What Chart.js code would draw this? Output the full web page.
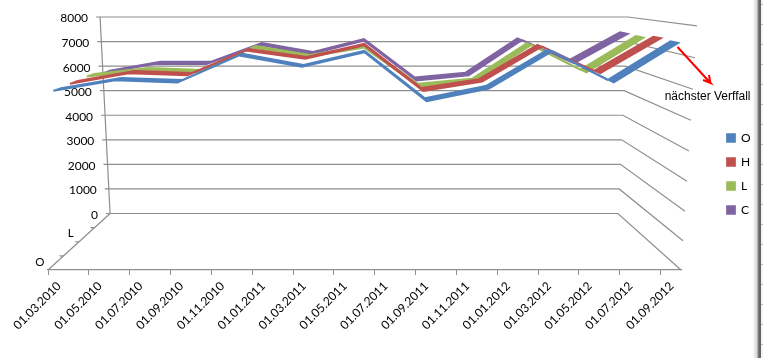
<!DOCTYPE html>
<html>
<head>
<meta charset="utf-8">
<style>
html,body{margin:0;padding:0;background:#fff;width:763px;height:358px;overflow:hidden}
#edge{position:absolute;left:753px;top:0;width:10px;height:358px;
background:linear-gradient(to right,#fff 0,#eee 1px,#d8d8d8 4px,#8a8a8a 5px,#5a5a5a 7px,#6a6a6a 8px,#f4f4f4 8px,#f4f4f4 10px)}
#notch{position:absolute;left:761px;top:0;width:2px;height:358px;
background:repeating-linear-gradient(to bottom,transparent 0,transparent 4px,#bbb 4px,#bbb 5px,transparent 5px,transparent 20px)}
canvas{position:absolute;left:0;top:0}
</style>
<script src="https://cdn.jsdelivr.net/npm/chart.js@4"></script>
</head>
<body>
<div id="edge"></div><div id="notch"></div>
<canvas id="c" width="763" height="358"></canvas>
<script>
// ---- data ----
const seriesNames = ['O','H','L','C'];
const valuesO = [5870,6210,6140,7020,6650,7120,5530,5940,7160,6140,7430];
const valuesH = [5900,6260,6190,7040,6760,7220,5650,5970,7190,6260,7470];
const valuesL = [5940,6160,6090,7000,6660,7000,5560,5750,7110,6090,7370];
const valuesC = [5840,6200,6200,6960,6600,7120,5560,5760,7150,6240,7390];
const monthIndex = [0,3,6,9,12,15,18,21,24,27,30];
const tickLabels = ['01.03.2010','01.05.2010','01.07.2010','01.09.2010','01.11.2010','01.01.2011','01.03.2011','01.05.2011','01.07.2011','01.09.2011','01.11.2011','01.01.2012','01.03.2012','01.05.2012','01.07.2012','01.09.2012'];
const depthLabels = [['O',0.125],['L',0.625]];
const depthTicks = [0.25,0.5,0.75];
const valueTicks = [0,1000,2000,3000,4000,5000,6000,7000,8000];
const colors = ['#4F81BD','#C0504D','#9BBB59','#8064A2'];
const seriesDepth = [0.16,0.42,0.68,0.92];
const ribbonWidth = 0.12;
const noteText = 'nächster Verffall';

// ---- oblique view of the 3D box, in axis units ----
const MONTHS = 31, VMAX = 8000, VFLOOR = -2300;
const lerp = (a,b,t) => a + (b-a)*t;
function project(month, value, d){
  const v = value/VMAX;
  const frontLeft = lerp(0,-0.78,v), frontRight = lerp(31,31.78,v);
  const backLeft = lerp(3.04,2.55,v), backRight = lerp(27.91,28.40,v);
  const left = lerp(frontLeft,backLeft,d), right = lerp(frontRight,backRight,d);
  const frontY = VFLOOR + 9446*v + 489*v*v;
  const backY = value;
  return {x: left + (month/MONTHS)*(right-left), y: lerp(frontY,backY,d)};
}
const GAP = {x:null,y:null};
function ribbon(values, d){
  const slot = values.map((val,i)=>[monthIndex[i]+0.5,val]);
  const front = slot.map(p=>project(p[0],p[1],d-ribbonWidth/2));
  const back = slot.map(p=>project(p[0],p[1],d+ribbonWidth/2)).reverse();
  return front.concat(back,[front[0]]);
}
function gridPoints(){
  const pts = [];
  valueTicks.forEach(val=>{
    const bl = project(0,val,1);
    pts.push({x:bl.x-0.2,y:bl.y}, bl, project(MONTHS,val,1), project(MONTHS,val,0), GAP);
  });
  pts.push(project(0,0,1),project(0,VMAX,1),GAP);
  pts.push(project(0,0,1),project(0,0,0),GAP);
  depthTicks.forEach(d=>{
    const p = project(0,0,d);
    pts.push(p,{x:p.x-0.2,y:p.y},GAP);
  });
  return pts;
}
const arrowPath = [{x:30.83,y:6780},{x:32.44,y:5314},{x:32.08,y:5436},{x:32.44,y:5314},{x:32.37,y:5640}];

const ribbonPlugin = {
  id:'ribbons',
  beforeLayout(chart){
    const lg = chart.legend;
    if(lg && !lg._fitWrapped){
      const fit = lg.fit;
      lg.fit = function(){ fit.call(this); this.width = 82; };
      lg._fitWrapped = true;
    }
  },
  afterLayout(chart){
    const lg = chart.legend;
    const h = lg.bottom-lg.top;
    lg.left = 715; lg.right = 763;
    lg.top = 120; lg.bottom = lg.top+h;
  },
  beforeDatasetDraw(chart,args){
    const ds = chart.data.datasets[args.index];
    if(!ds.isRibbon) return;
    const pts = args.meta.data, ctx = chart.ctx;
    ctx.save();
    ctx.fillStyle = ds.backgroundColor;
    ctx.beginPath();
    pts.forEach((p,i)=> i ? ctx.lineTo(p.x,p.y) : ctx.moveTo(p.x,p.y));
    ctx.closePath();
    ctx.fill();
    ctx.restore();
  },
  beforeDraw(chart){
    const ys = chart.scales.y, xs = chart.scales.x;
    const items = ys._computeLabelItems(chart.chartArea);
    items.forEach(it=>{
      const val = Number(it.label);
      it.options.translation[0] = xs.getPixelForValue(project(0,val,1).x) - 12;
      it.options.translation[1] += 1.5;
      it.options.textAlign = 'right';
    });
    ys._labelItems = items;
  },
  afterDraw(chart){
    const xs = chart.scales.x, ys = chart.scales.y, ctx = chart.ctx;
    ctx.save();
    ctx.fillStyle = '#000';
    ctx.textBaseline = 'middle';
    ctx.textAlign = 'center';
    ctx.font = '11.5px Lato';
    depthLabels.forEach(([t,d])=>{
      const p = project(0,0,d);
      ctx.fillText(t, xs.getPixelForValue(p.x)-16, ys.getPixelForValue(p.y)-1);
    });
    ctx.textAlign = 'left';
    ctx.font = '12px "Liberation Sans"';
    ctx.fillText(noteText, xs.getPixelForValue(30.2), ys.getPixelForValue(4770));
    ctx.restore();
  }
};

const datasets = seriesNames.map((name,i)=>({
  label:name,
  isRibbon:true,
  data:ribbon([valuesO,valuesH,valuesL,valuesC][i],seriesDepth[i]),
  borderColor:colors[i],
  backgroundColor:colors[i],
  borderWidth:1.7,
  pointRadius:0,
  tension:0,
  clip:false
}));
datasets.push({label:'Pfeil',data:arrowPath,borderColor:'#ff0000',backgroundColor:'#ff0000',borderWidth:2,pointRadius:0,tension:0,clip:false});
datasets.push({label:'Raster',data:gridPoints(),borderColor:'#8e8e8e',backgroundColor:'#8e8e8e',borderWidth:1.2,pointRadius:0,tension:0,spanGaps:false,clip:false});

new Chart(document.getElementById('c'),{
  type:'line',
  data:{datasets},
  plugins:[ribbonPlugin],
  options:{
    responsive:false,
    animation:false,
    layout:{padding:{top:17,left:0,right:0,bottom:0}},
    plugins:{
      tooltip:{enabled:false},
      title:{display:false},
      legend:{
        position:'right',
        align:'start',
        labels:{
          boxWidth:8,boxHeight:8,padding:12,color:'#000',
          font:{family:'Lato',size:12},
          filter:item=>seriesNames.includes(item.text)
        }
      }
    },
    scales:{
      x:{
        type:'linear',min:0,max:MONTHS,
        border:{display:true,color:'#8e8e8e',width:1.2},
        grid:{display:true,drawOnChartArea:false,drawTicks:true,tickLength:5,color:'#8e8e8e'},
        afterFit(s){s.height=88;},
        ticks:{
          stepSize:2,autoSkip:false,maxRotation:45,minRotation:45,
          labelOffset:11,padding:4,color:'#000',
          font:{family:'Lato',size:12},
          callback:(val)=>tickLabels[val/2]
        }
      },
      y:{
        type:'linear',min:VFLOOR,max:VMAX,
        border:{display:false},
        grid:{display:false},
        afterFit(s){s.width=48;},
        afterBuildTicks(s){s.ticks = valueTicks.map(v=>({value:v}));},
        ticks:{mirror:true,color:'#000',font:{family:'Lato',size:12},padding:3,callback:v=>String(v)}
      }
    }
  }
});
</script>
</body>
</html>
